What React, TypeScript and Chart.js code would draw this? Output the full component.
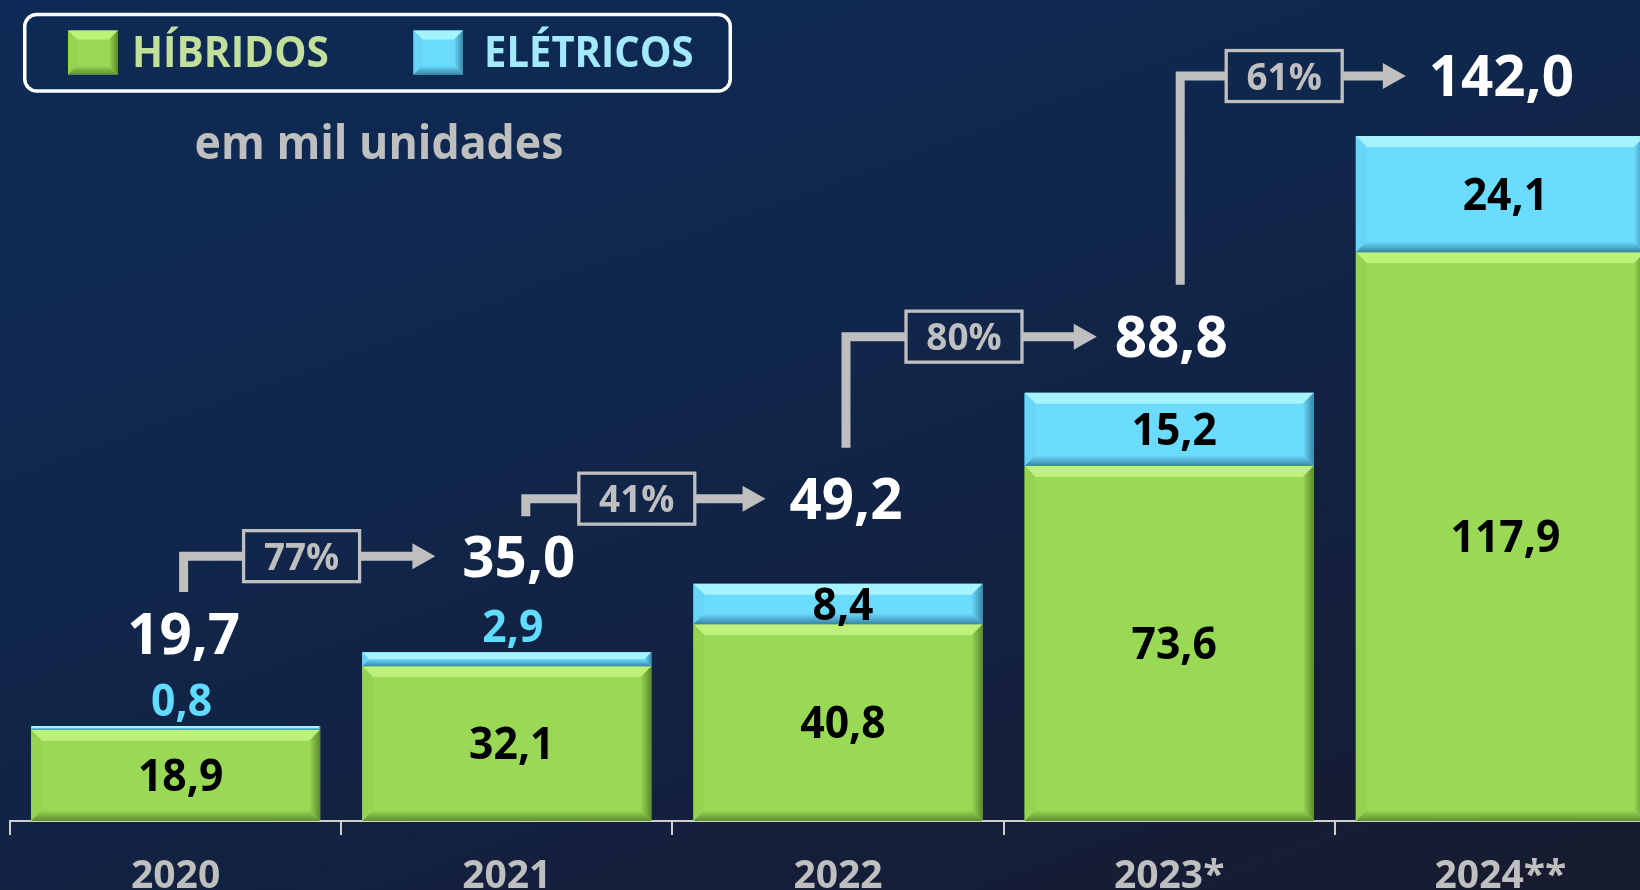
import React, { useEffect, useRef } from "react";
import { Chart, registerables } from "chart.js";

Chart.register(...registerables);

// ---------- data ----------
const years = ["2020", "2021", "2022", "2023*", "2024**"];
const hibridos = [18.9, 32.1, 40.8, 73.6, 117.9];
const eletricos = [0.8, 2.9, 8.4, 15.2, 24.1];
const growthLabels = ["77%", "41%", "80%", "61%"];
const seriesNames = ["HÍBRIDOS", "ELÉTRICOS"];
const unitNote = "em mil unidades";

// ---------- layout (pixels) ----------
const totalLift = [92, 96, 85, 56, 60];
const totalDx = [8, 12, 8, 2, 1];
const arrowDrop = [42, 40, 51, 52];
const arrowDx = [0, 7, 0, 9];
const arrowBoxDx = [118, 118, 118, 113];
const arrowTipGap = [27, 24, 18, 23];

const FONT = "'Open Sans', 'DejaVu Sans', sans-serif";
const GREEN = "#9ad955";
const BLUE = "#6bdcfe";
const CYAN_LABEL = "#5fdcff";
const GRAY = "#bfbfbf";

const palettes = [
  { face: GREEN, top: "#bdf27a", left: "#95d351", rightOuter: "#5a8a2b", bottomOuter: "#5f8e30" },
  { face: BLUE, top: "#a4f3ff", left: "#66d5f7", rightOuter: "#3a86a8", bottomOuter: "#3a86a6" },
];

const fmt = (v: number) => v.toFixed(1).replace(".", ",");

function poly(ctx: CanvasRenderingContext2D, pts: number[][], fill: any) {
  ctx.beginPath();
  ctx.moveTo(pts[0][0], pts[0][1]);
  for (let i = 1; i < pts.length; i++) ctx.lineTo(pts[i][0], pts[i][1]);
  ctx.closePath();
  ctx.fillStyle = fill;
  ctx.fill();
}

function drawBevel(ctx: CanvasRenderingContext2D, l: number, t: number, r: number, b: number, pal: any, size = 11) {
  const bv = Math.min(size, (b - t) / 2, (r - l) / 2);
  if (bv <= 0) return;
  ctx.save();
  poly(ctx, [[l, t], [r, t], [r - bv, t + bv], [l + bv, t + bv]], pal.top);
  poly(ctx, [[l, t], [l + bv, t + bv], [l + bv, b - bv], [l, b]], pal.left);
  const gr = ctx.createLinearGradient(r, 0, r - bv, 0);
  gr.addColorStop(0, pal.rightOuter);
  gr.addColorStop(1, pal.face);
  poly(ctx, [[r, t], [r - bv, t + bv], [r - bv, b - bv], [r, b]], gr);
  const gb = ctx.createLinearGradient(0, b, 0, b - bv);
  gb.addColorStop(0, pal.bottomOuter);
  gb.addColorStop(1, pal.face);
  poly(ctx, [[l, b], [r, b], [r - bv, b - bv], [l + bv, b - bv]], gb);
  ctx.restore();
}

function txt(
  ctx: CanvasRenderingContext2D,
  s: string,
  x: number,
  yMid: number,
  size: number,
  color: string,
  sx = 0.93,
  align: CanvasTextAlign = "center"
) {
  ctx.save();
  ctx.font = `bold ${size}px ${FONT}`;
  ctx.fillStyle = color;
  ctx.textAlign = align;
  ctx.textBaseline = "alphabetic";
  ctx.translate(x, yMid + size * 0.357);
  ctx.scale(sx, 1);
  ctx.fillText(s, 0, 0);
  ctx.restore();
}

function txtWidth(ctx: CanvasRenderingContext2D, s: string, size: number, sx = 0.93) {
  ctx.save();
  ctx.font = `bold ${size}px ${FONT}`;
  const w = ctx.measureText(s).width * sx;
  ctx.restore();
  return w;
}

const overlay = {
  id: "overlay",
  afterDatasetsDraw(chart: any) {
    const ctx: CanvasRenderingContext2D = chart.ctx;
    chart.data.datasets.forEach((_ds: any, di: number) => {
      const meta = chart.getDatasetMeta(di);
      meta.data.forEach((el: any) => {
        const p = el.getProps(["x", "y", "base", "width"], true);
        drawBevel(
          ctx,
          p.x - p.width / 2,
          Math.min(p.y, p.base),
          p.x + p.width / 2,
          Math.max(p.y, p.base),
          palettes[di]
        );
      });
    });
  },
  afterDraw(chart: any) {
    const ctx: CanvasRenderingContext2D = chart.ctx;
    const gMeta = chart.getDatasetMeta(0);
    const bMeta = chart.getDatasetMeta(1);
    const totals: { x: number; y: number; w: number }[] = [];

    years.forEach((_y, i) => {
      const g = gMeta.data[i].getProps(["x", "y", "base"], true);
      const b = bMeta.data[i].getProps(["x", "y", "base"], true);
      txt(ctx, fmt(hibridos[i]), g.x + 5, (g.y + g.base) / 2, 44, "#000", 0.97);
      const bh = Math.abs(b.base - b.y);
      if (bh > 36) txt(ctx, fmt(eletricos[i]), b.x + 5, (b.y + b.base) / 2, 44, "#000", 0.97);
      else txt(ctx, fmt(eletricos[i]), b.x + 6, b.y - 26, 44, CYAN_LABEL, 0.97);
      const total = hibridos[i] + eletricos[i];
      const s = fmt(total);
      const tx = b.x + totalDx[i];
      const ty = b.y - totalLift[i];
      txt(ctx, s, tx, ty, 57, "#ffffff", 0.99);
      totals.push({ x: tx, y: ty, w: txtWidth(ctx, s, 57, 0.99) });
    });

    // growth arrows
    ctx.save();
    growthLabels.forEach((g, i) => {
      const a = totals[i];
      const n = totals[i + 1];
      const vx = a.x + arrowDx[i];
      const bottom = a.y - arrowDrop[i];
      const hy = n.y;
      const bx = a.x + arrowBoxDx[i];
      const bw = 116;
      const bhh = 51;
      const tip = n.x - n.w / 2 - arrowTipGap[i];
      ctx.strokeStyle = GRAY;
      ctx.fillStyle = GRAY;
      ctx.lineWidth = 9;
      ctx.lineCap = "butt";
      ctx.lineJoin = "miter";
      ctx.beginPath();
      ctx.moveTo(vx, bottom);
      ctx.lineTo(vx, hy);
      ctx.lineTo(bx - bw / 2, hy);
      ctx.stroke();
      ctx.beginPath();
      ctx.moveTo(bx + bw / 2, hy);
      ctx.lineTo(tip - 22, hy);
      ctx.stroke();
      poly(ctx, [[tip, hy], [tip - 23, hy - 13], [tip - 23, hy + 13]], GRAY);
      ctx.lineWidth = 3.3;
      ctx.strokeRect(bx - bw / 2, hy - bhh / 2, bw, bhh);
      txt(ctx, g, bx, hy, 38, GRAY, 0.97);
    });
    ctx.restore();

    // legend box
    ctx.save();
    ctx.strokeStyle = "#ffffff";
    ctx.lineWidth = 3.5;
    ctx.beginPath();
    (ctx as any).roundRect(24.75, 14.5, 705.5, 76.5, 12);
    ctx.stroke();
    ctx.restore();
    const legendItems = [
      { x: 68, w: 50, textX: 132, color: "#c3df9c", sx: 0.945 },
      { x: 413.5, w: 49.5, textX: 484, color: "#a3e9fc", sx: 0.93 },
    ];
    legendItems.forEach((it, i) => {
      ctx.fillStyle = palettes[i].face;
      ctx.fillRect(it.x, 30.5, it.w, 44);
      drawBevel(ctx, it.x, 30.5, it.x + it.w, 74.5, palettes[i], 9);
      txt(ctx, seriesNames[i], it.textX, 52, 43, it.color, it.sx, "left");
    });

    // unit note
    txt(ctx, unitNote, 379, 142, 47, GRAY, 0.95);
  },
};

export default function App() {
  const ref = useRef<HTMLCanvasElement>(null);
  useEffect(() => {
    const canvas = ref.current!;
    const chart = new Chart(canvas, {
      type: "bar",
      data: {
        labels: years,
        datasets: [
          { label: seriesNames[0], data: hibridos, backgroundColor: GREEN, borderWidth: 0, stack: "s" },
          { label: seriesNames[1], data: eletricos, backgroundColor: BLUE, borderWidth: 0, stack: "s" },
        ],
      },
      options: {
        responsive: false,
        animation: false,
        devicePixelRatio: 1,
        layout: { padding: { left: 10, right: 6, top: 0, bottom: 0 } },
        datasets: { bar: { categoryPercentage: 1, barPercentage: 0.873 } },
        plugins: { legend: { display: false }, tooltip: { enabled: false } },
        scales: {
          x: {
            stacked: true,
            offset: true,
            grid: {
              offset: true,
              drawOnChartArea: false,
              drawTicks: true,
              tickLength: 14,
              color: "#cfcfcf",
              lineWidth: 2,
            },
            border: { display: true, color: "#cfcfcf", width: 2 },
            ticks: {
              color: GRAY,
              font: { family: FONT, size: 39, weight: "bold" },
              padding: 18,
              autoSkip: false,
              maxRotation: 0,
              minRotation: 0,
            },
            afterFit: (s: any) => {
              s.height = 69;
            },
          },
          y: { stacked: true, display: false, min: 0, max: 170.2 },
        },
      } as any,
      plugins: [overlay],
    });
    return () => chart.destroy();
  }, []);

  return (
    <div
      style={{
        position: "fixed",
        left: 0,
        top: 0,
        width: 1640,
        height: 890,
        overflow: "hidden",
        background: "linear-gradient(160deg, #0d2b56 0%, #10274c 40%, #141f3b 75%, #171b2e 100%)",
      }}
    >
      <canvas ref={ref} width={1672} height={890} style={{ display: "block", width: 1672, height: 890 }} />
    </div>
  );
}
